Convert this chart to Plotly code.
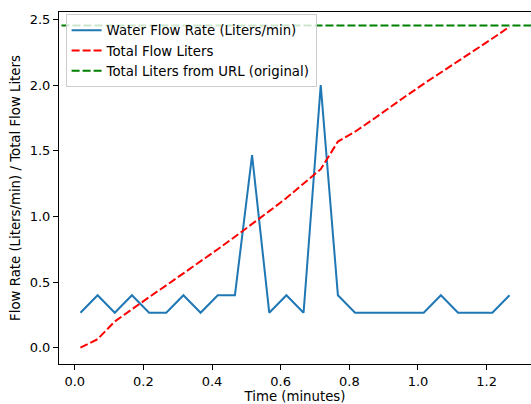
import plotly.graph_objects as go

# Time in minutes (samples every 3 s, starting at 1 s)
time_min = [(1 + 3 * i) / 60 for i in range(26)]

flow_rate = [0.2667, 0.4, 0.2667, 0.4, 0.2667, 0.2667, 0.4, 0.2667, 0.4, 0.4,
             1.4667, 0.2667, 0.4, 0.2667, 2.0, 0.4, 0.2667, 0.2667, 0.2667, 0.2667,
             0.2667, 0.4, 0.2667, 0.2667, 0.2667, 0.4]

total_liters = [0.0, 0.065, 0.20, 0.295, 0.385, 0.475, 0.565, 0.655, 0.75, 0.845,
                0.94, 1.04, 1.14, 1.25, 1.36, 1.57, 1.645, 1.735, 1.83, 1.92,
                2.01, 2.095, 2.18, 2.27, 2.355, 2.445]

url_total = 2.455

x_ticks = [0.0, 0.2, 0.4, 0.6, 0.8, 1.0, 1.2]
x_tick_text = ["0.0", "0.2", "0.4", "0.6", "0.8", "1.0", "1.2"]
y_ticks = [0.0, 0.5, 1.0, 1.5, 2.0, 2.5]
y_tick_text = ["0.0", "0.5", "1.0", "1.5", "2.0", "2.5"]

font_family = "DejaVu Sans"

fig = go.Figure()
fig.add_trace(go.Scatter(x=time_min, y=flow_rate, mode="lines",
                         name="Water Flow Rate (Liters/min)",
                         line=dict(color="#1f77b4", width=2)))
fig.add_trace(go.Scatter(x=time_min, y=total_liters, mode="lines",
                         name="Total Flow Liters",
                         line=dict(color="red", width=2, dash="8px,3px")))
fig.add_trace(go.Scatter(x=[-1, 2], y=[url_total, url_total], mode="lines",
                         name="Total Liters from URL (original)",
                         line=dict(color="#008000", width=2, dash="8px,3px")))

fig.update_layout(
    width=531, height=404,
    margin=dict(l=58.5, r=0, t=11.5, b=40, autoexpand=False),
    paper_bgcolor="white", plot_bgcolor="white",
    font=dict(family=font_family, size=13, color="black"),
    showlegend=True,
    legend=dict(x=0.014, y=0.994, xanchor="left", yanchor="top",
                bgcolor="rgba(255,255,255,0.8)", bordercolor="#cccccc",
                borderwidth=1, font=dict(size=13.3, family=font_family),
                itemwidth=30, tracegroupgap=0),
)
fig.update_xaxes(range=[-0.0458, 1.3292], tickvals=x_ticks, ticktext=x_tick_text,
                 showgrid=False, zeroline=False, showline=True, linecolor="black",
                 linewidth=1.1, mirror=True, ticks="outside", ticklen=5,
                 tickwidth=1.1, tickcolor="black", automargin=False,
                 title=dict(text="Time (minutes)", standoff=3,
                            font=dict(size=13.3, family=font_family)))
fig.update_yaxes(range=[-0.124, 2.557], tickvals=y_ticks, ticktext=y_tick_text,
                 showgrid=False, zeroline=False, showline=True, linecolor="black",
                 linewidth=1.1, mirror=False, ticks="outside", ticklen=5,
                 tickwidth=1.1, tickcolor="black", automargin=False,
                 title=dict(text="Flow Rate (Liters/min) / Total Flow Liters",
                            standoff=6, font=dict(size=13.3, family=font_family)))

fig.write_html("out.html", config={"displayModeBar": False},
               post_script="document.body.style.margin='0';document.body.style.overflow='hidden';")
